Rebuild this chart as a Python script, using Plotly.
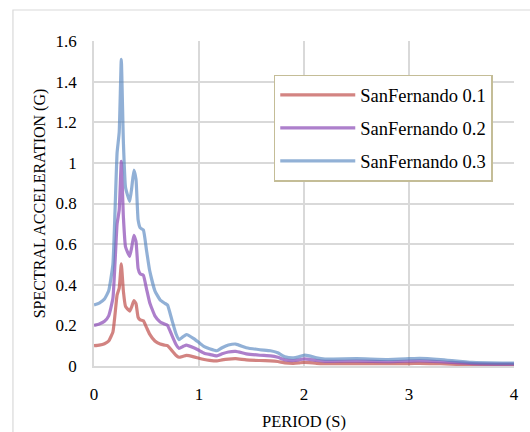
import plotly.graph_objects as go

# Response spectra (period in s, spectral acceleration in g)
period = [0, 0.05, 0.1, 0.14, 0.18, 0.2, 0.22, 0.24, 0.26, 0.28, 0.3, 0.32, 0.34, 0.36,
          0.38, 0.4, 0.42, 0.44, 0.47, 0.5, 0.53, 0.58, 0.63, 0.67, 0.7, 0.74, 0.78, 0.81,
          0.85, 0.88, 0.95, 1.0, 1.05, 1.1, 1.17, 1.22, 1.28, 1.35, 1.45, 1.58, 1.68, 1.75,
          1.82, 1.9, 1.95, 2.0, 2.05, 2.12, 2.2, 2.5, 2.8, 3.0, 3.1, 3.3, 3.6, 4.0]

sa_01 = [0.10, 0.103, 0.11, 0.123, 0.167, 0.253, 0.35, 0.383, 0.503, 0.367, 0.293, 0.28,
         0.27, 0.293, 0.322, 0.307, 0.24, 0.227, 0.223, 0.19, 0.157, 0.123, 0.108, 0.103,
         0.10, 0.077, 0.053, 0.043, 0.048, 0.052, 0.045, 0.038, 0.032, 0.028, 0.025, 0.03,
         0.034, 0.036, 0.03, 0.027, 0.025, 0.022, 0.015, 0.013, 0.015, 0.018, 0.017, 0.013,
         0.011, 0.012, 0.011, 0.012, 0.013, 0.011, 0.006, 0.005]

sa_02 = [0.20, 0.207, 0.22, 0.247, 0.333, 0.507, 0.70, 0.767, 1.007, 0.733, 0.587, 0.56,
         0.54, 0.587, 0.643, 0.613, 0.48, 0.453, 0.447, 0.38, 0.313, 0.247, 0.217, 0.207,
         0.20, 0.153, 0.107, 0.087, 0.097, 0.103, 0.09, 0.077, 0.063, 0.057, 0.05, 0.06,
         0.069, 0.072, 0.06, 0.053, 0.05, 0.043, 0.03, 0.027, 0.03, 0.035, 0.033, 0.027,
         0.023, 0.024, 0.021, 0.024, 0.025, 0.021, 0.012, 0.009]

sa_03 = [0.30, 0.31, 0.33, 0.37, 0.50, 0.76, 1.05, 1.15, 1.51, 1.10, 0.88, 0.84, 0.81,
         0.88, 0.965, 0.92, 0.72, 0.68, 0.67, 0.57, 0.47, 0.37, 0.325, 0.31, 0.30, 0.23,
         0.16, 0.13, 0.145, 0.155, 0.135, 0.115, 0.095, 0.085, 0.075, 0.09, 0.103, 0.108,
         0.09, 0.08, 0.075, 0.065, 0.045, 0.04, 0.045, 0.053, 0.05, 0.04, 0.034, 0.036,
         0.032, 0.036, 0.038, 0.032, 0.018, 0.014]

series_names = ["SanFernando 0.1", "SanFernando 0.2", "SanFernando 0.3"]
y_ticks = [0, 0.2, 0.4, 0.6, 0.8, 1, 1.2, 1.4, 1.6]
x_ticks = [0, 1, 2, 3, 4]

colors = ["#c0504d", "#8e4fb8", "#4f81bd"]
opacities = [0.7, 0.72, 0.62]

FONT = "Liberation Serif"
GRID = "#d9d9d9"

fig = go.Figure()
for i, (name, ys) in enumerate(zip(series_names, [sa_01, sa_02, sa_03])):
    fig.add_trace(go.Scatter(
        x=period, y=ys, mode="lines", name=name,
        legendgroup=name,
        line=dict(color=colors[i], width=3.2, shape="spline", smoothing=0.4),
        opacity=opacities[i],
    ))

fig.update_layout(
    width=530, height=432,
    margin=dict(l=94, r=16, t=41, b=66),
    paper_bgcolor="white", plot_bgcolor="white",
    font=dict(family=FONT, size=17, color="#000000"),
    showlegend=True,
    legend=dict(
        x=0.428, y=0.896, xanchor="left", yanchor="top",
        bordercolor="#c4bd97", borderwidth=1.5, bgcolor="white",
        font=dict(family=FONT, size=18.5, color="#000000"),
        traceorder="grouped", tracegroupgap=6,
        itemwidth=75, entrywidth=268, entrywidthmode="pixels",
    ),
    xaxis=dict(
        range=[0, 4], tickvals=x_ticks, showgrid=True, gridcolor=GRID, gridwidth=1.5,
        showline=True, linecolor=GRID, linewidth=1.5, zeroline=False, automargin=False,
        ticklabelstandoff=12, tickfont=dict(family=FONT, size=17),
        title=dict(text="PERIOD (S)", font=dict(family=FONT, size=16.5), standoff=12),
    ),
    yaxis=dict(
        range=[0, 1.6], tickvals=y_ticks, showgrid=True, gridcolor=GRID, gridwidth=1.5,
        showline=True, linecolor=GRID, linewidth=1.5, zeroline=False, automargin=False,
        ticklabelstandoff=12, tickfont=dict(family=FONT, size=17),
        title=dict(text="SPECTRAL ACCELERATION (G)", font=dict(family=FONT, size=16), standoff=6),
    ),
    shapes=[dict(
        type="rect", xref="paper", yref="paper",
        x0=-0.193, x1=1.3, y0=-0.4, y1=1.0954,
        line=dict(color=GRID, width=1.2), fillcolor="rgba(0,0,0,0)", layer="below",
    )],
)

fig.write_html("out.html")
